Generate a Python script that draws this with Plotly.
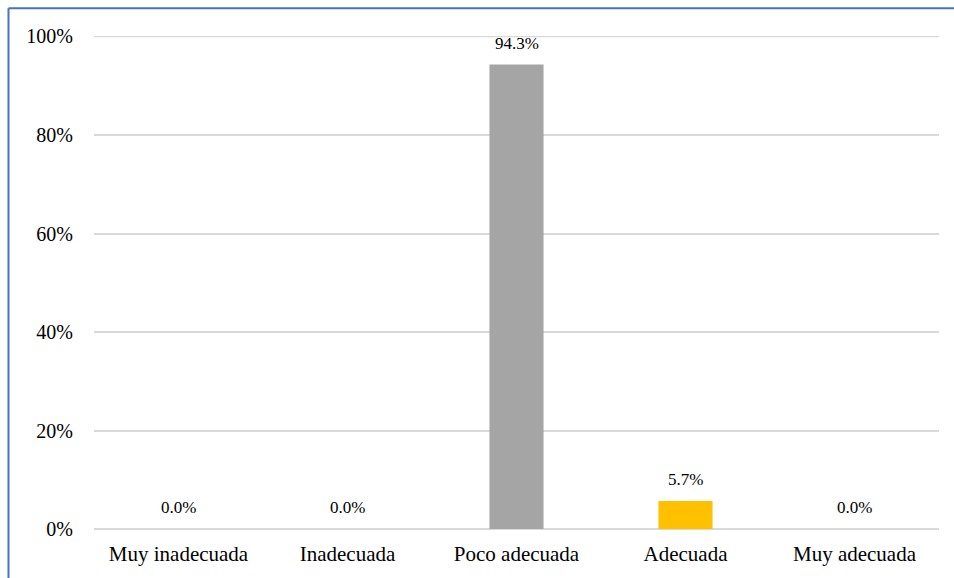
import plotly.graph_objects as go

categories = ["Muy inadecuada", "Inadecuada", "Poco adecuada", "Adecuada", "Muy adecuada"]
shares = [0.0, 0.0, 0.943, 0.057, 0.0]
bar_colors = ["#4472C4", "#ED7D31", "#A5A5A5", "#FFC000", "#5B9BD5"]
y_ticks = [0, 0.2, 0.4, 0.6, 0.8, 1.0]
y_tick_labels = ["0%", "20%", "40%", "60%", "80%", "100%"]

FONT = "Liberation Serif"
GRID = "#D9D9D9"

fig = go.Figure(
    go.Bar(
        x=categories,
        y=shares,
        marker=dict(color=bar_colors, line=dict(width=0)),
        width=0.32,
        hoverinfo="x+y",
    )
)

# value labels above each bar
for cat, val in zip(categories, shares):
    fig.add_annotation(
        x=cat, y=val, text=f"{val * 100:.1f}%",
        showarrow=False, yanchor="bottom", yshift=10,
        font=dict(family=FONT, size=17, color="#000000"),
    )

# top gridline sits on the plot edge, so draw it explicitly
fig.add_shape(type="line", xref="paper", yref="y",
              x0=0, x1=1, y0=y_ticks[-1], y1=y_ticks[-1],
              line=dict(color=GRID, width=1.5), layer="below")

# frame edges around the chart area
fig.add_shape(type="line", xref="paper", yref="paper",
              x0=-0.1012, x1=1.2, y0=1.0562, y1=1.0562,
              line=dict(color="#4472C4", width=2))
fig.add_shape(type="line", xref="paper", yref="paper",
              x0=-0.1012, x1=-0.1012, y0=1.0562, y1=-0.2,
              line=dict(color="#4472C4", width=2))

fig.update_layout(
    width=954, height=578,
    margin=dict(l=94, r=15, t=36, b=49),
    paper_bgcolor="white", plot_bgcolor="white",
    showlegend=False,
    font=dict(family=FONT, size=20, color="#000000"),
    bargap=0.68,
)
fig.update_xaxes(
    showgrid=False, showline=False, zeroline=False, ticks="",
    tickfont=dict(family=FONT, size=21), ticklabelstandoff=10,
)
fig.update_yaxes(
    range=[0, 1.001], tickvals=y_ticks, ticktext=y_tick_labels,
    showgrid=True, gridcolor=GRID, gridwidth=1.5,
    zeroline=True, zerolinecolor=GRID, zerolinewidth=1.5,
    showline=False, ticks="", ticklabelstandoff=20,
    tickfont=dict(family=FONT, size=20),
)

fig.write_html("out.html")
